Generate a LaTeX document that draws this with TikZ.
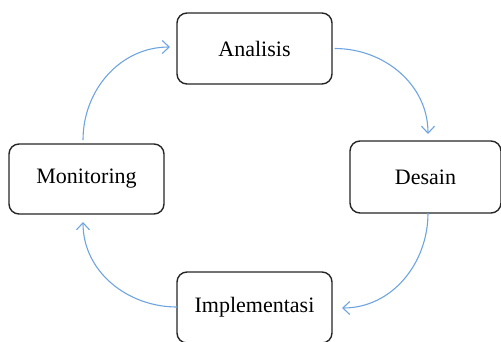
\documentclass[tikz,border=0pt]{standalone}
\usepackage{fontspec}
\setmainfont{Liberation Serif}
\usetikzlibrary{arrows.meta,calc}
\begin{document}
\begin{tikzpicture}[x=1pt,y=-1pt,
  box/.style={draw=black!85, line width=1.4pt, rounded corners=10pt, fill=white,
    minimum width=155pt, minimum height=71pt, inner sep=0pt, font=\fontsize{22}{25}\selectfont},
  flow/.style={draw={rgb,255:red,110;green,165;blue,225}, line width=1.1pt,
    -{Straight Barb[length=7pt,width=13pt,line width=1.1pt]}}]
\useasboundingbox (0,0) rectangle (501,341);
\clip (0,0) rectangle (501,341);
\node[box] (ana) at (254.5,48.5) {Analisis};
\node[box, minimum width=151pt, minimum height=72pt] (des) at (425.5,177) {Desain};
\node[box, minimum height=70pt] (mon) at (86.5,179) {Monitoring};
\node[box] (imp) at (254.5,307.5) {Implementasi};
\coordinate (a1) at ($(ana.east)+(2,0)$);
\coordinate (a2) at (428,134);
\coordinate (b1) at (428,213);
\coordinate (b2) at (342,308);
\coordinate (c1) at (177,307);
\coordinate (c2) at (83,222);
\coordinate (d1) at (83,140);
\coordinate (d2) at (170,47);
\draw[flow] (a1) to[out=0,in=90] (a2);
\draw[flow] (b1) to[out=-90,in=0] (b2);
\draw[flow] (c1) to[out=180,in=-90] (c2);
\draw[flow] (d1) to[out=90,in=180] (d2);
\end{tikzpicture}
\end{document}
